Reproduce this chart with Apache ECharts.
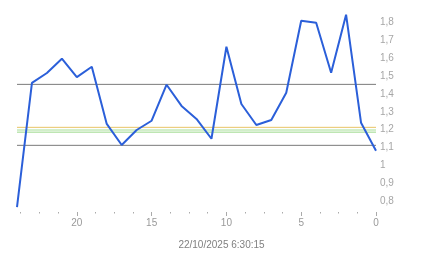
<!DOCTYPE html>
<html>
<head>
<meta charset="utf-8">
<script src="https://cdn.jsdelivr.net/npm/echarts@6/dist/echarts.min.js"></script>
<style>html,body{margin:0;padding:0;background:#fff;}#c{width:443px;height:258px;}</style>
</head>
<body>
<div id="c"></div>
<script>
const xValues = [24,23,22,21,20,19,18,17,16,15,14,13,12,11,10,9,8,7,6,5,4,3,2,1,0];
const yValues = [0.766,1.462,1.518,1.598,1.495,1.553,1.232,1.114,1.198,1.250,1.452,1.333,1.260,1.149,1.665,1.344,1.226,1.254,1.407,1.811,1.800,1.519,1.845,1.239,1.082];
const refLevels = [1.454,1.213,1.198,1.186,1.112];
const refColors = ['#7a7a7a','#e8c466','#a6de96','#9ad88a','#7a7a7a'];
const xLabelTicks = [0,5,10,15,20];
const xMinorTicks = [1.25,2.5,3.75,6.25,7.5,8.75,11.25,12.5,13.75,16.25,17.5,18.75,21.25,22.5,23.75];
const yLabelTicks = [0.8,0.9,1.0,1.1,1.2,1.3,1.4,1.5,1.6,1.7,1.8];
const timestamp = '22/10/2025 6:30:15';

const font = 'Liberation Sans, Arial, sans-serif';
const chart = echarts.init(document.getElementById('c'), null, {renderer:'canvas'});
const baseX = {
  type:'value', min:0, max:24, inverse:true, position:'bottom',
  axisLine:{show:false}, splitLine:{show:false}
};
const refSeries = refLevels.map((v,i)=>({
  type:'line', xAxisIndex:0, silent:true, symbol:'none', z:2,
  data:[[xValues[0], v],[xValues[xValues.length-1], v]],
  lineStyle:{color:refColors[i], width:1}
}));
chart.setOption({
  animation:false,
  title:{text:timestamp, left:'center', top:235,
    textStyle:{fontSize:10, color:'#808080', fontWeight:'normal', fontFamily:font}},
  grid:{left:17, right:67, top:12, bottom:46},
  xAxis:[
    Object.assign({}, baseX, {
      axisTick:{show:true, customValues:xLabelTicks, length:4, lineStyle:{color:'#aaa'}},
      axisLabel:{show:true, customValues:xLabelTicks, fontSize:10, color:'#999', margin:6, fontFamily:font}
    }),
    Object.assign({}, baseX, {
      axisTick:{show:true, customValues:xMinorTicks, length:1.5, lineStyle:{color:'#aaa'}},
      axisLabel:{show:false}
    })
  ],
  yAxis:{
    type:'value', position:'right', min:0.738, max:1.86,
    axisLine:{show:false}, axisTick:{show:false}, splitLine:{show:false},
    axisLabel:{show:true, customValues:yLabelTicks, fontSize:10, color:'#a6a6a6', margin:4, fontFamily:font,
      formatter:v => String(Math.round(v*10)/10).replace('.', ',')}
  },
  series:refSeries.concat([{
    type:'line', xAxisIndex:0,
    data:xValues.map((x,i)=>[x,yValues[i]]),
    symbol:'none',
    lineStyle:{color:'#2b5fd9', width:2},
    z:3
  }])
});
</script>
</body>
</html>
